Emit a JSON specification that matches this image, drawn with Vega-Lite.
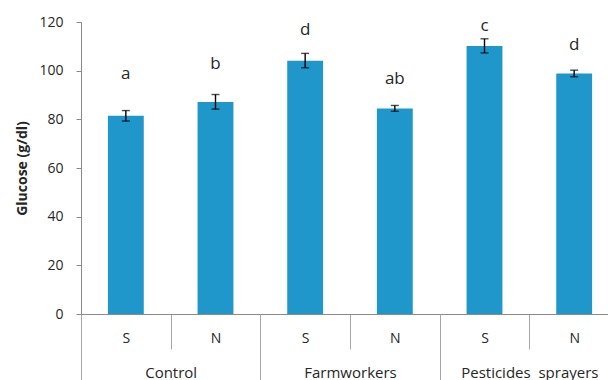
{
  "$schema": "https://vega.github.io/schema/vega-lite/v6.json",
  "width": 527,
  "height": 292,
  "autosize": {"type": "none"},
  "padding": {"left": 81, "top": 22, "right": 0, "bottom": 66},
  "config": {
    "view": {"stroke": null},
    "font": "Open Sans",
    "axis": {"grid": false, "domainColor": "#898989", "tickColor": "#a6a6a6", "labelColor": "#262626", "labelFont": "Open Sans", "labelFontSize": 14, "titleFont": "Open Sans"}
  },
  "data": {
    "values": [
      {"group": "Control", "sub": "S", "key": "Control|S", "glucose": 81.5, "lo": 79.3, "hi": 83.6, "letter": "a", "ly": 96.6},
      {"group": "Control", "sub": "N", "key": "Control|N", "glucose": 87.1, "lo": 84.2, "hi": 90.2, "letter": "b", "ly": 100.7},
      {"group": "Farmworkers", "sub": "S", "key": "Farmworkers|S", "glucose": 104.1, "lo": 101.2, "hi": 107.1, "letter": "d", "ly": 114.7},
      {"group": "Farmworkers", "sub": "N", "key": "Farmworkers|N", "glucose": 84.5, "lo": 83.3, "hi": 85.7, "letter": "ab", "ly": 94.5},
      {"group": "Pesticides\u00a0\u00a0sprayers", "sub": "S", "key": "Pesticides|S", "glucose": 110.1, "lo": 107.3, "hi": 113.1, "letter": "c", "ly": 116.4},
      {"group": "Pesticides\u00a0\u00a0sprayers", "sub": "N", "key": "Pesticides|N", "glucose": 98.8, "lo": 97.5, "hi": 100.2, "letter": "d", "ly": 108.5}
    ]
  },
  "layer": [
    {
      "encoding": {
        "x": {
          "field": "key", "type": "nominal", "sort": null,
          "scale": {"range": [0, 538], "paddingInner": 0, "paddingOuter": 0},
          "axis": {
            "title": null, "labelAngle": 0,
            "labelExpr": "split(datum.value, '|')[1]",
            "tickSize": 35, "tickWidth": 1, "tickBand": "extent",
            "labelBaseline": "middle", "labelPadding": -11
          }
        }
      },
      "layer": [
        {
          "mark": {"type": "bar", "color": "#2097cb", "width": {"band": 0.4}},
          "encoding": {
            "y": {
              "field": "glucose", "type": "quantitative",
              "scale": {"domain": [0, 120], "nice": false},
              "axis": {
                "title": "Glucose (g/dl)", "titleFontSize": 14, "titleFontWeight": "bold", "titleColor": "#262626",
                "values": [0, 20, 40, 60, 80, 100, 120],
                "tickSize": 5, "tickColor": "#898989", "labelPadding": 13,
                "titleX": -59, "titleBaseline": "middle"
              }
            }
          }
        },
        {
          "mark": {"type": "rule", "color": "#000000", "strokeWidth": 1.4},
          "encoding": {
            "y": {"field": "lo", "type": "quantitative"},
            "y2": {"field": "hi"}
          }
        },
        {
          "mark": {"type": "tick", "color": "#000000", "size": 8, "thickness": 1.4},
          "encoding": {"y": {"field": "lo", "type": "quantitative"}}
        },
        {
          "mark": {"type": "tick", "color": "#000000", "size": 8, "thickness": 1.4},
          "encoding": {"y": {"field": "hi", "type": "quantitative"}}
        },
        {
          "mark": {"type": "text", "fontSize": 17, "color": "#262626", "baseline": "alphabetic", "font": "Open Sans"},
          "encoding": {
            "y": {"field": "ly", "type": "quantitative"},
            "text": {"field": "letter"}
          }
        }
      ]
    },
    {
      "mark": {"type": "bar", "opacity": 0},
      "encoding": {
        "x": {
          "field": "group", "type": "nominal", "sort": null,
          "scale": {"range": [0, 538], "paddingInner": 0, "paddingOuter": 0},
          "axis": {
            "orient": "bottom", "title": null, "labelAngle": 0, "domain": false,
            "tickSize": 70, "tickWidth": 1, "tickBand": "extent",
            "labelBaseline": "middle", "labelPadding": -12, "labelFontSize": 15
          }
        },
        "y": {"field": "glucose", "type": "quantitative"}
      }
    }
  ],
  "resolve": {"scale": {"x": "independent"}, "axis": {"x": "independent"}}
}
